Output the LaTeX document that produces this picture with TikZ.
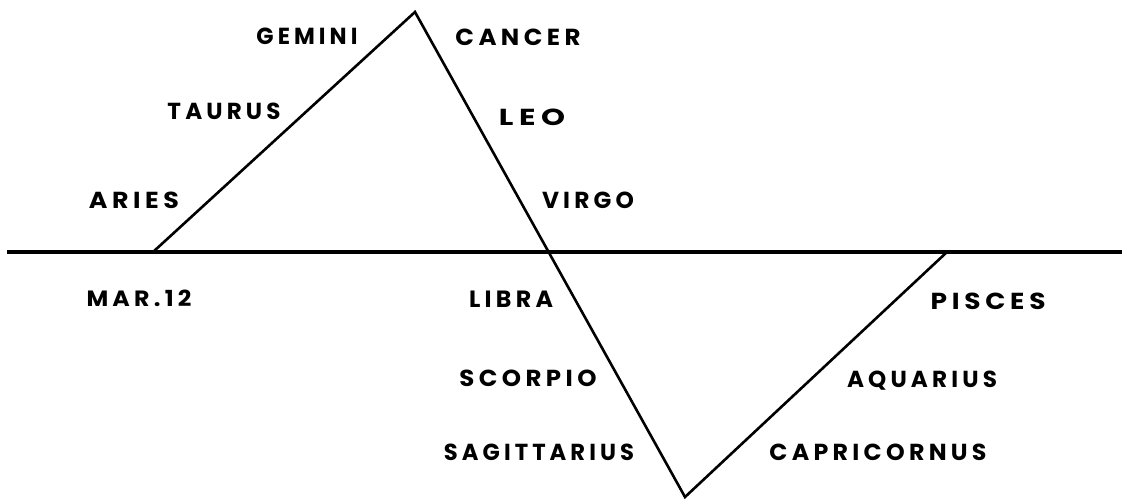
\documentclass[tikz,border=0pt]{standalone}
\usepackage{fontspec}
\usepackage{graphicx}
\newfontfamily\labfont{Poppins}[LetterSpace=18]
\newcommand{\zlab}[2]{\resizebox{#1pt}{16.5pt}{\labfont\bfseries #2}}
\begin{document}
\begin{tikzpicture}[x=1pt,y=-1pt,
  baseline/.style={line width=3.3pt},
  zig/.style={line width=2.6pt,line join=miter},
  lab/.style={inner sep=0pt,anchor=center}]
\useasboundingbox (0,0) rectangle (1122,499);
% vertices
\coordinate (L) at (7,252);
\coordinate (R) at (1122,252);
\coordinate (A) at (153,252);
\coordinate (P) at (415,12);
\coordinate (B) at (685,497);
\coordinate (C) at (947,252);
\draw[baseline] (L) -- (R);
\draw[zig] (A) -- (P) -- (B) -- (C);
% labels above
\node[lab] (gemini) at (307,36) {\zlab{101}{GEMINI}};
\node[lab] (cancer) at (518,37) {\zlab{125}{CANCER}};
\node[lab] (taurus) at (224,111) {\zlab{113}{TAURUS}};
\node[lab] (leo) at (532,117) {\zlab{66}{LEO}};
\node[lab] (aries) at (134,200) {\zlab{90}{ARIES}};
\node[lab] (virgo) at (588,200) {\zlab{92}{VIRGO}};
% labels below
\node[lab] (mar) at (139,298) {\zlab{105}{MAR.12}};
\node[lab] (libra) at (511,299) {\zlab{84}{LIBRA}};
\node[lab] (scorpio) at (528,378) {\zlab{137}{SCORPIO}};
\node[lab] (sagit) at (539,452) {\zlab{190}{SAGITTARIUS}};
\node[lab] (pisces) at (988,301) {\zlab{115}{PISCES}};
\node[lab] (aquarius) at (922,381) {\zlab{150}{AQUARIUS}};
\node[lab] (capri) at (878,452) {\zlab{217}{CAPRICORNUS}};
\end{tikzpicture}
\end{document}
